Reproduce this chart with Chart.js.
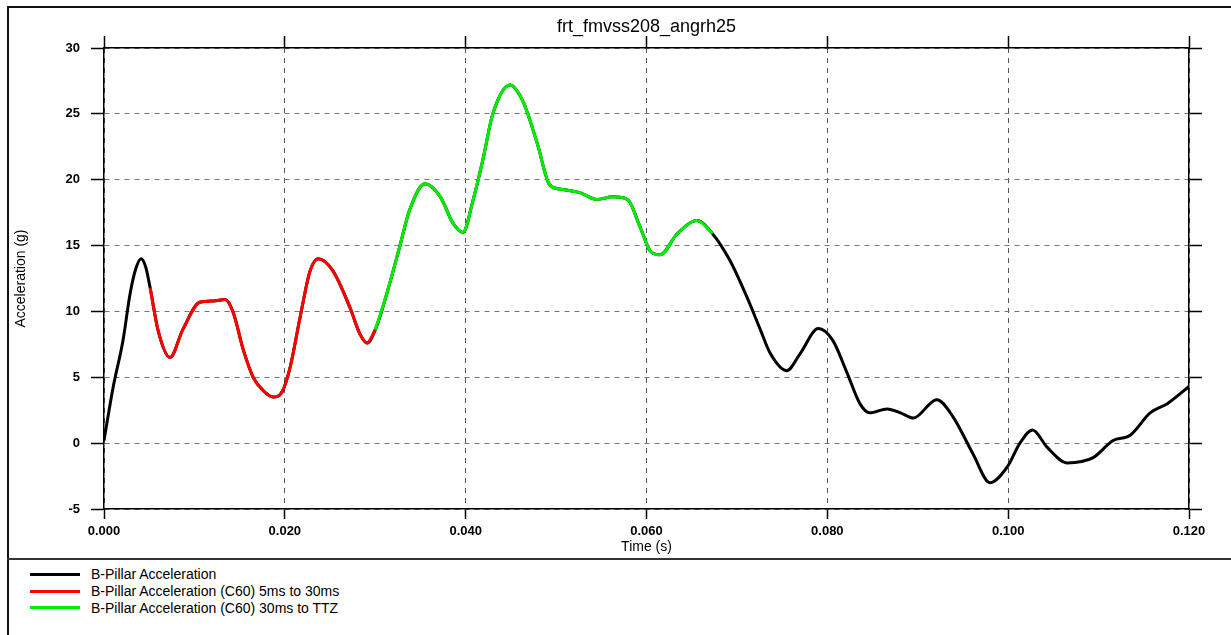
<!DOCTYPE html>
<html>
<head>
<meta charset="utf-8">
<script src="https://cdn.jsdelivr.net/npm/chart.js@4.4.1/dist/chart.umd.min.js"></script>
<style>
  html, body { margin: 0; padding: 0; background: #fff; }
  #page { position: relative; width: 1231px; height: 635px; overflow: hidden; font-family: "Liberation Sans", Arial, sans-serif; }
  #frame { position: absolute; left: 7px; top: 6px; width: 1260px; height: 660px; border-left: 2px solid #111; border-top: 2px solid #111; }
  #sep { position: absolute; left: 7px; top: 558px; width: 1240px; height: 0; border-top: 2px solid #333; }
  #chartBox { position: absolute; left: 10px; top: 8px; }
  #legend { position: absolute; left: 30px; top: 566px; }
  .legend-row { display: flex; align-items: center; height: 16.7px; font-size: 14px; color: #000; }
  .legend-line { width: 50px; height: 3px; margin-right: 11px; }
</style>
</head>
<body>
<div id="page">
  <div id="frame"></div>
  <div id="chartBox"><canvas id="chartAccel" width="1221" height="549"></canvas></div>
  <div id="sep"></div>
  <div id="legend"></div>
</div>
<script>
// B-Pillar trace (time in s, acceleration in g)
const timeS = [
  0.0000, 0.0010, 0.0021, 0.0029, 0.0035, 0.0041, 0.0046, 0.0051, 0.0060, 0.0073,
  0.0087, 0.0106, 0.0121, 0.0134, 0.0143, 0.0154, 0.0165, 0.0176, 0.0187, 0.0197,
  0.0206, 0.0217, 0.0228, 0.0237, 0.0253, 0.0272, 0.0283, 0.0291, 0.0300, 0.0313,
  0.0327, 0.0338, 0.0355, 0.0372, 0.0386, 0.0397, 0.0408, 0.0419, 0.0430, 0.0449,
  0.0463, 0.0479, 0.0493, 0.0504, 0.0527, 0.0545, 0.0563, 0.0579, 0.0593, 0.0604,
  0.0615, 0.0634, 0.0656, 0.0673, 0.0692, 0.0711, 0.0726, 0.0737, 0.0755, 0.0770,
  0.0790, 0.0806, 0.0822, 0.0836, 0.0847, 0.0866, 0.0881, 0.0895, 0.0921, 0.0939,
  0.0961, 0.0980, 0.0999, 0.1013, 0.1027, 0.1043, 0.1065, 0.1094, 0.1116, 0.1135,
  0.1157, 0.1176, 0.1200
];
const accelG = [
  0.2, 4.2, 7.8, 11.4, 13.2, 14.0, 13.4, 11.8, 8.5, 6.5,
  8.6, 10.7, 10.8, 10.9, 9.9, 7.1, 5.0, 4.0, 3.5, 3.9,
  5.8, 9.6, 13.1, 14.0, 13.1, 10.3, 8.3, 7.6, 8.6, 11.4,
  14.9, 17.7, 19.7, 18.7, 16.7, 16.0, 18.4, 21.5, 25.0, 27.2,
  26.0, 22.8, 19.6, 19.3, 19.0, 18.5, 18.7, 18.5, 16.4, 14.6,
  14.3, 15.9, 16.9, 15.9, 13.9, 11.1, 8.6, 6.8, 5.5, 6.8,
  8.7, 7.8, 5.3, 3.0, 2.3, 2.6, 2.3, 1.9, 3.3, 2.0,
  -0.8, -3.0, -1.8, 0.0, 1.0, -0.3, -1.5, -1.1, 0.2, 0.6,
  2.3, 3.0, 4.3
];

// C60 windows
const redStart = 0.005;
const redEnd = 0.030;
const ttz = 0.0673;

const xTicks = [0, 0.02, 0.04, 0.06, 0.08, 0.10, 0.12];
const yTicks = [-5, 0, 5, 10, 15, 20, 25, 30];

const seriesNames = [
  'B-Pillar Acceleration',
  'B-Pillar Acceleration (C60) 5ms to 30ms',
  'B-Pillar Acceleration (C60) 30ms to TTZ'
];
const seriesColors = ['#000000', '#ff0000', '#00ee00'];

function puntos(desde, hasta) {
  const out = [];
  timeS.forEach((t, i) => {
    if (t >= desde && t <= hasta) out.push({ x: t, y: accelG[i] });
  });
  return out;
}

const tickFont = { family: '"Liberation Sans", Arial, sans-serif', size: 13, weight: 'bold' };
const titleFont = { family: '"Liberation Sans", Arial, sans-serif', size: 14 };

const datasets = [
  puntos(0, 1),
  puntos(redStart, redEnd),
  puntos(redEnd, ttz)
].map((data, i) => ({
  label: seriesNames[i],
  data,
  borderColor: seriesColors[i],
  backgroundColor: seriesColors[i],
  borderWidth: 3,
  pointRadius: 0,
  fill: false,
  cubicInterpolationMode: 'monotone',
  order: i === 0 ? 2 : 1
}));

const ctx = document.getElementById('chartAccel').getContext('2d');
const chartAccel = new Chart(ctx, {
  type: 'line',
  data: { datasets },
  options: {
    responsive: false,
    animation: false,
    layout: { padding: { left: 0, right: 29, top: 0, bottom: 0 } },
    plugins: {
      legend: { display: false },
      tooltip: { enabled: false },
      title: {
        display: true,
        fullSize: false,
        text: 'frt_fmvss208_angrh25',
        color: '#000',
        font: { family: '"Liberation Sans", Arial, sans-serif', size: 18, weight: 'normal', lineHeight: 1.0 },
        padding: { top: 10, bottom: 0 }
      }
    },
    scales: {
      x: {
        type: 'linear',
        position: 'bottom',
        min: 0,
        max: 0.12,
        afterBuildTicks: s => { s.ticks = xTicks.map(v => ({ value: v })); },
        afterFit: s => { s.height = 48; },
        ticks: { color: '#000', font: tickFont, padding: 5, maxRotation: 0, callback: v => v.toFixed(3) },
        grid: { color: '#555', lineWidth: 1, tickLength: 10, tickColor: '#000', tickWidth: 1.5 },
        border: { display: true, color: '#000', width: 1.5, dash: [5, 5] },
        title: { display: true, text: 'Time (s)', color: '#000', font: titleFont, padding: { top: 0, bottom: 1 } }
      },
      x2: {
        type: 'linear',
        position: 'top',
        min: 0,
        max: 0.12,
        afterBuildTicks: s => { s.ticks = xTicks.map(v => ({ value: v })); },
        afterFit: s => { s.height = 12; },
        ticks: { display: false },
        grid: { drawOnChartArea: false, tickLength: 12, tickColor: '#000', tickWidth: 1.5 },
        border: { display: true, color: '#000', width: 1.5 }
      },
      y: {
        type: 'linear',
        position: 'left',
        min: -5,
        max: 30,
        afterBuildTicks: s => { s.ticks = yTicks.map(v => ({ value: v })); },
        afterFit: s => { s.width = 94; },
        ticks: { color: '#000', font: tickFont, padding: 11 },
        grid: { color: '#777', lineWidth: 1, tickLength: 13, tickColor: '#000', tickWidth: 1.5 },
        border: { display: true, color: '#000', width: 1.5, dash: [5, 5] },
        title: { display: true, text: 'Acceleration (g)', color: '#000', font: titleFont, padding: { top: 3, bottom: 0 } }
      },
      y2: {
        type: 'linear',
        position: 'right',
        min: -5,
        max: 30,
        afterBuildTicks: s => { s.ticks = yTicks.map(v => ({ value: v })); },
        afterFit: s => { s.width = 13; },
        ticks: { display: false },
        grid: { drawOnChartArea: false, tickLength: 13, tickColor: '#000', tickWidth: 1.5 },
        border: { display: true, color: '#000', width: 1.5 }
      }
    }
  }
});

// leyenda en HTML, en columna como en el original
const legend = document.getElementById('legend');
chartAccel.data.datasets.forEach(ds => {
  const row = document.createElement('div');
  row.className = 'legend-row';
  row.innerHTML = `<span class="legend-line" style="background:${ds.borderColor}"></span><span>${ds.label}</span>`;
  legend.appendChild(row);
});
</script>
</body>
</html>
